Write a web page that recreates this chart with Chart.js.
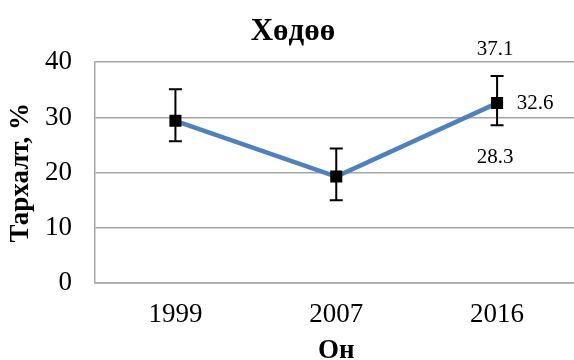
<!DOCTYPE html>
<html>
<head>
<meta charset="utf-8">
<script src="https://cdn.jsdelivr.net/npm/chart.js@4.4.1/dist/chart.umd.min.js"></script>
<style>
  html, body { margin: 0; padding: 0; background: #fff; overflow: hidden; }
  #wrap { position: relative; width: 586px; height: 367px; }
</style>
</head>
<body>
<div id="wrap"><canvas id="chart"></canvas></div>
<script>
// Өгөгдөл
const years = ['1999', '2007', '2016'];
const prevalence = [29.4, 19.3, 32.6];
const errHigh = [35.1, 24.4, 37.5];
const errLow = [25.7, 15.0, 28.6];
const yTicks = [0, 10, 20, 30, 40];
// 2016 оны цэгийн шошгууд
const lastLabels = ['37.1', '32.6', '28.3'];

const serif = "'Liberation Serif', 'Times New Roman', serif";
const gridGray = '#a6a6a6';

// алдааны зураас (error bar)
const errorBars = {
    id: 'errorBars',
    beforeDatasetsDraw(chart) {
        const { ctx, scales: { x, y } } = chart;
        ctx.save();
        ctx.strokeStyle = '#000';
        ctx.lineWidth = 2;
        years.forEach((yr, i) => {
            const px = x.getPixelForValue(i);
            const top = y.getPixelForValue(errHigh[i]);
            const bot = y.getPixelForValue(errLow[i]);
            ctx.beginPath();
            ctx.moveTo(px, top); ctx.lineTo(px, bot);
            ctx.moveTo(px - 6.5, top); ctx.lineTo(px + 6.5, top);
            ctx.moveTo(px - 6.5, bot); ctx.lineTo(px + 6.5, bot);
            ctx.stroke();
        });
        ctx.restore();
    }
};

// сүүлийн цэгийн утгууд
const pointLabels = {
    id: 'pointLabels',
    afterDatasetsDraw(chart) {
        const { ctx, scales: { x, y } } = chart;
        const i = years.length - 1;
        const px = x.getPixelForValue(i);
        ctx.save();
        ctx.fillStyle = '#000';
        ctx.font = '21px ' + serif;
        ctx.textAlign = 'center';
        ctx.textBaseline = 'middle';
        ctx.fillText(lastLabels[0], px - 2, y.getPixelForValue(errHigh[i]) - 27);
        ctx.fillText(lastLabels[2], px - 2, y.getPixelForValue(errLow[i]) + 32);
        ctx.fillText(lastLabels[1], px + 38, y.getPixelForValue(prevalence[i]));
        ctx.restore();
    }
};

new Chart(document.getElementById('chart'), {
    type: 'line',
    data: {
        labels: years,
        datasets: [{
            data: prevalence,
            borderColor: '#4f81bd',
            borderWidth: 4.5,
            pointStyle: 'rect',
            pointRadius: 8.5,
            pointHoverRadius: 8.5,
            pointBackgroundColor: '#000',
            pointBorderColor: '#000',
            pointBorderWidth: 0,
            tension: 0
        }]
    },
    options: {
        responsive: true,
        maintainAspectRatio: false,
        animation: false,
        layout: { padding: 0 },
        plugins: {
            legend: { display: false },
            tooltip: { enabled: false },
            title: {
                display: true,
                text: 'Хөдөө',
                color: '#000',
                font: { family: serif, size: 31, weight: 'bold' },
                padding: { top: 13, bottom: 12 }
            }
        },
        scales: {
            x: {
                type: 'category',
                offset: true,
                grid: { display: false, drawTicks: false },
                border: { display: true, color: gridGray, width: 1.5 },
                ticks: { color: '#000', font: { family: serif, size: 27 }, padding: 16 },
                title: {
                    display: true,
                    text: 'Он',
                    color: '#000',
                    font: { family: serif, size: 27, weight: 'bold' },
                    padding: { top: -13, bottom: 0 }
                }
            },
            y: {
                min: 0,
                max: 40,
                afterBuildTicks(scale) { scale.ticks = yTicks.map(v => ({ value: v })); },
                afterFit(scale) { scale.width = 95; },
                grid: { color: gridGray, lineWidth: 1.5, drawTicks: false },
                border: { display: true, color: gridGray, width: 1.5 },
                ticks: { color: '#000', font: { family: serif, size: 27 }, padding: 23 },
                title: {
                    display: true,
                    text: 'Тархалт, %',
                    color: '#000',
                    font: { family: serif, size: 27, weight: 'bold' },
                    padding: { top: 5, bottom: 0 }
                }
            }
        }
    },
    plugins: [errorBars, pointLabels]
});
</script>
</body>
</html>
